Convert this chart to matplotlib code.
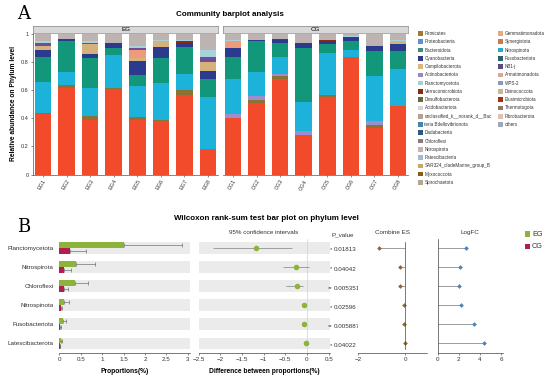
import numpy as np
import matplotlib
matplotlib.use("Agg")
import matplotlib.pyplot as plt
from matplotlib.patches import Rectangle

plt.rcParams['font.family'] = ['Liberation Sans', 'DejaVu Sans']

W, H = 550, 375

# ---------------- panel A data ----------------
eg_samples = ["EG1", "EG2", "EG3", "EG4", "EG5", "EG6", "EG7", "EG8"]
cg_samples = ["CG1", "CG2", "CG3", "CG4", "CG5", "CG6", "CG7", "CG8"]

# stacked layers, bottom -> top, values EG1..EG8 then CG1..CG8
layer_names = ["Proteobacteria", "Firmicutes", "Actinobacteriota", "Nitrospinota",
               "Bacteroidota", "Cyanobacteria", "Campilobacterota", "Gemmatimonadota",
               "NB1-j", "Verrucomicrobiota", "Planctomycetota", "others"]
layer_colors = ["#F24B2C", "#8C7234", "#9C8FCF", "#1DB2D9",
                "#12977A", "#2B3A8C", "#D5B27C", "#F09A7B",
                "#6D4E9A", "#8E2B12", "#A9D3DB", "#BDB3B0"]
proteobacteria = [0.43, 0.62, 0.39, 0.61, 0.39, 0.38, 0.57, 0.18,
                  0.40, 0.51, 0.68, 0.28, 0.55, 0.84, 0.33, 0.49]
firmicutes = [0.01, 0.02, 0.03, 0.01, 0.02, 0.01, 0.03, 0.00,
              0.00, 0.02, 0.02, 0.00, 0.02, 0.00, 0.02, 0.00]
actinobacteriota = [0.00, 0.00, 0.00, 0.00, 0.00, 0.00, 0.00, 0.00,
                    0.03, 0.03, 0.02, 0.03, 0.00, 0.00, 0.03, 0.00]
nitrospinota = [0.22, 0.09, 0.20, 0.23, 0.22, 0.26, 0.12, 0.37,
                0.25, 0.17, 0.12, 0.21, 0.30, 0.05, 0.32, 0.26]
bacteroidota = [0.18, 0.22, 0.21, 0.05, 0.08, 0.18, 0.19, 0.13,
                0.16, 0.22, 0.10, 0.38, 0.06, 0.06, 0.18, 0.13]
cyanobacteria = [0.05, 0.02, 0.03, 0.04, 0.10, 0.08, 0.03, 0.06,
                 0.06, 0.01, 0.02, 0.04, 0.02, 0.03, 0.04, 0.05]
campilobacterota = [0.03, 0.00, 0.07, 0.00, 0.02, 0.04, 0.00, 0.06,
                    0.00, 0.00, 0.00, 0.00, 0.00, 0.00, 0.00, 0.02]
gemmatimonadota = [0.00, 0.00, 0.00, 0.00, 0.06, 0.00, 0.00, 0.00,
                   0.05, 0.00, 0.00, 0.00, 0.00, 0.00, 0.00, 0.00]
nb1j = [0.02, 0.00, 0.01, 0.00, 0.01, 0.00, 0.00, 0.04,
        0.00, 0.00, 0.00, 0.00, 0.00, 0.00, 0.00, 0.00]
verrucomicrobiota = [0.00, 0.00, 0.00, 0.00, 0.00, 0.00, 0.01, 0.00,
                     0.00, 0.00, 0.01, 0.00, 0.01, 0.00, 0.00, 0.00]
planctomycetota = [0.01, 0.00, 0.01, 0.00, 0.02, 0.01, 0.01, 0.05,
                   0.01, 0.00, 0.00, 0.00, 0.00, 0.01, 0.00, 0.01]
others = [0.05, 0.03, 0.05, 0.06, 0.08, 0.04, 0.04, 0.11,
          0.04, 0.04, 0.03, 0.06, 0.04, 0.01, 0.08, 0.04]
layers = [proteobacteria, firmicutes, actinobacteriota, nitrospinota, bacteroidota,
          cyanobacteria, campilobacterota, gemmatimonadota, nb1j, verrucomicrobiota,
          planctomycetota, others]

legend_col1 = ["Firmicutes", "Proteobacteria", "Bacteroidota", "Cyanobacteria",
               "Campilobacterota", "Actinobacteriota", "Planctomycetota",
               "Verrucomicrobiota", "Desulfobacterota", "Acidobacteriota",
               "unclassified_k__norank_d__Bac", "teria Bdellovibrionota", "Dadabacteria",
               "Chloroflexi", "Nitrospirota", "Patescibacteria",
               "SAR324_cladeMarine_group_B", "Myxococcota", "Spirochaetota"]
legend_col1_colors = ["#A07A34", "#5E92D8", "#3F8C7C", "#2E3A87", "#D9B77A",
                      "#8E8CC8", "#A8CFD4", "#8B2A0E", "#6B6440", "#D6D6D6",
                      "#B8A090", "#4A82AA", "#2C5A80", "#8C7A80", "#C9B0B8",
                      "#A8B8D0", "#C9A860", "#8B5A14", "#B0A890"]
legend_col2 = ["Gemmatimonadota", "Synergistota", "Nitrospinota", "Fusobacteriota",
               "NB1-j", "Armatimonadota", "WPS-2", "Deinococcota", "Elusimicrobiota",
               "Thermotogota", "Fibrobacterota", "others"]
legend_col2_colors = ["#E8A880", "#C97850", "#2AA8D0", "#2A6070", "#5A4A80",
                      "#D8A890", "#8898B8", "#C8B890", "#A83010", "#8A7A60",
                      "#E0C0B0", "#A0A8B8"]

# ---------------- panel B data ----------------
phyla = ["Planctomycetota", "Nitrospirota", "Chloroflexi", "Nitrospinota",
         "Fusobacteriota", "Latescibacterota"]
eg_mean = [1.50, 0.39, 0.37, 0.10, 0.08, 0.03]
eg_upper = [2.87, 0.83, 0.67, 0.22, 0.15, 0.07]
cg_mean = [0.26, 0.10, 0.10, 0.03, 0.02, 0.01]
cg_upper = [0.63, 0.28, 0.20, 0.06, 0.04, 0.02]
diff = [-1.18, -0.25, -0.23, -0.06, -0.06, -0.02]
ci_low = [-2.16, -0.56, -0.48, -0.10, -0.09, -0.05]
ci_high = [-0.35, 0.04, -0.09, -0.02, -0.03, 0.01]
p_values = ["0.01813", "0.04042", "0.005351", "0.02596", "0.005887", "0.04022"]
p_stars = ["*", "*", "**", "*", "**", "*"]
combine_es = [-1.09, -0.21, -0.21, -0.03, -0.03, 0.0]
log_fc = [2.65, 2.1, 2.0, 2.2, 3.4, 4.4]

green = "#8DB33A"
crimson = "#B21E4E"


def px_axes(fig, x0, y0, x1, y1):
    return fig.add_axes([x0 / W, 1 - y1 / H, (x1 - x0) / W, (y1 - y0) / H])


fig = plt.figure(figsize=(W / 100, H / 100), dpi=100)

# ---------------- panel A ----------------
fig.text(24 / W, 1 - 14 / H, "A", family="DejaVu Serif", fontsize=13, ha="center", va="center")
fig.text(230 / W, 1 - 14 / H, "Community barplot analysis", fontsize=5.8,
         fontweight="bold", ha="center", va="center")

data = np.array(layers)
for k, (x0, x1, names, label) in enumerate([(33, 218, eg_samples, "EG"),
                                            (223, 408, cg_samples, "CG")]):
    ax = px_axes(fig, x0, 33, x1, 174.5)
    vals = data[:, k * 8:(k + 1) * 8]
    xs = np.arange(8)
    bottom = np.zeros(8)
    for row, col in zip(vals, layer_colors):
        ax.bar(xs, row, 0.7, bottom=bottom, color=col, linewidth=0)
        bottom += row
    ax.set_xlim(-0.42, 7.42)
    ax.set_ylim(0, 1.01)
    ax.set_xticks(xs)
    ax.set_xticklabels(names, rotation=60, ha="right", rotation_mode="anchor", fontsize=4)
    ax.tick_params(length=1.5, width=0.4, pad=1.5, colors="#333333")
    for s in ["top", "right"]:
        ax.spines[s].set_visible(False)
    for s in ["left", "bottom"]:
        ax.spines[s].set_linewidth(0.5)
        ax.spines[s].set_color("#555555")
    if k == 0:
        ax.set_yticks([0, 0.2, 0.4, 0.6, 0.8, 1.0])
        ax.set_yticklabels(["0", "0.2", "0.4", "0.6", "0.8", "1"], fontsize=4)
        ax.set_ylabel("Relative abundance on Phylum level", fontsize=4.8,
                      fontweight="bold", labelpad=3)
    else:
        ax.set_yticks([])
        ax.spines["left"].set_visible(False)
    strip = px_axes(fig, x0, 26, x1, 32.5)
    strip.set_facecolor("#D9D9D9")
    strip.set_xticks([])
    strip.set_yticks([])
    for s in strip.spines.values():
        s.set_linewidth(0.5)
        s.set_color("#888888")
    strip.text(0.5, 0.45, label, fontsize=4.5, ha="center", va="center",
               transform=strip.transAxes)

# legend of panel A
for col_x, names, cols in [(418, legend_col1, legend_col1_colors),
                           (498, legend_col2, legend_col2_colors)]:
    for i, (name, c) in enumerate(zip(names, cols)):
        y = 33.5 + i * 8.27
        fig.patches.append(Rectangle(((col_x) / W, 1 - (y + 2.3) / H), 4.6 / W, 4.6 / H,
                                     transform=fig.transFigure, color=c, linewidth=0))
        fig.text((col_x + 6.5) / W, 1 - y / H, name, fontsize=3.3, ha="left",
                 va="center", color="#333333")

# ---------------- panel B ----------------
fig.text(23.5 / W, 1 - 227.5 / H, "B", family="DejaVu Serif", fontsize=13,
         ha="center", va="center")
fig.text(266.5 / W, 1 - 219 / H, "Wilcoxon rank-sum test bar plot on phylum level",
         fontsize=5.8, fontweight="bold", ha="center", va="center")

rows = np.arange(len(phyla))[::-1]


def style_axis(ax):
    for s in ["top", "right", "left"]:
        ax.spines[s].set_visible(False)
    ax.spines["bottom"].set_linewidth(0.5)
    ax.spines["bottom"].set_color("#444444")
    ax.tick_params(axis="x", length=1.5, width=0.4, pad=1.5, labelsize=4.5,
                   colors="#333333")
    ax.set_ylim(-0.5, 5.5)


# proportions bar panel
axb = px_axes(fig, 59.3, 238.5, 190, 353)
for r in rows:
    axb.axhspan(r - 0.31, r + 0.31, color="#EBEBEB", linewidth=0)
axb.barh(rows + 0.155, eg_mean, 0.31, color=green, linewidth=0)
axb.barh(rows - 0.155, cg_mean, 0.31, color=crimson, linewidth=0)
axb.errorbar(eg_mean, rows + 0.155,
             xerr=[np.zeros(6), np.array(eg_upper) - np.array(eg_mean)],
             fmt="none", ecolor="#555555", elinewidth=0.4, capsize=1.2, capthick=0.4)
axb.errorbar(cg_mean, rows - 0.155,
             xerr=[np.zeros(6), np.array(cg_upper) - np.array(cg_mean)],
             fmt="none", ecolor="#555555", elinewidth=0.4, capsize=1.2, capthick=0.4)
axb.set_xlim(0, 3.05)
axb.set_xticks([0, 0.5, 1, 1.5, 2, 2.5, 3])
axb.set_xticklabels(["0", "0.5", "1", "1.5", "2", "2.5", "3"])
axb.set_yticks(rows)
axb.set_yticklabels(phyla)
style_axis(axb)
axb.tick_params(axis="y", length=0, pad=4, labelsize=4.5, colors="#333333")
axb.set_xlabel("Proportions(%)", fontsize=4.8, fontweight="bold", labelpad=4)

# confidence interval panel
axc = px_axes(fig, 198.7, 238.5, 329.5, 353)
for r in rows:
    axc.axhspan(r - 0.31, r + 0.31, color="#EBEBEB", linewidth=0)
axc.axvline(0, color="#D0D0D0", linewidth=0.5)
axc.errorbar(diff, rows,
             xerr=[np.array(diff) - np.array(ci_low), np.array(ci_high) - np.array(diff)],
             fmt="o", color=green, ms=4, ecolor="#666666", elinewidth=0.4,
             capsize=1.2, capthick=0.4, markeredgewidth=0)
axc.set_xlim(-2.5, 0.52)
axc.set_xticks([-2.5, -2, -1.5, -1, -0.5, 0, 0.5])
axc.set_xticklabels(["\u22122.5", "\u22122", "\u22121.5", "\u22121", "\u22120.5", "0", "0.5"])
axc.set_yticks([])
style_axis(axc)
axc.set_xlabel("Difference between proportions(%)", fontsize=4.8, fontweight="bold",
               labelpad=4)
axc.set_title("95% confidence intervals", fontsize=4.5, pad=3, color="#333333")
tr = axc.get_yaxis_transform()
for r, star, p in zip(rows, p_stars, p_values):
    axc.text(1.023, r - 0.1, star, fontsize=4.3, ha="right", va="center",
             transform=tr, color="#444444")
    axc.text(1.035, r - 0.1, p, fontsize=4.5, ha="left", va="center",
             transform=tr, color="#333333")
axc.text(1.1, 5.55, "P_value", fontsize=4.5, ha="center", va="bottom",
         transform=tr, color="#333333")

# combine ES panel
axe = px_axes(fig, 358, 238.5, 427, 353)
axe.hlines(rows, 0, combine_es, color="#777777", linewidth=0.5)
axe.plot(combine_es, rows, "D", color="#8B6A3A", ms=2.4, markeredgewidth=0)
axe.set_xlim(-2, 0.93)
axe.set_xticks([-2, 0])
axe.set_xticklabels(["\u22122", "0"])
axe.set_yticks([])
style_axis(axe)
axe.spines["left"].set_visible(True)
axe.spines["left"].set_position(("data", 0))
axe.spines["left"].set_linewidth(0.5)
axe.spines["left"].set_color("#444444")
axe.spines["left"].set_bounds(-0.3, 5.3)
axe.set_title("Combine ES", fontsize=4.5, pad=3, color="#333333")

# logFC panel
axl = px_axes(fig, 437.7, 238.5, 503, 353)
axl.hlines(rows, 0, log_fc, color="#777777", linewidth=0.5)
axl.plot(log_fc, rows, "D", color="#4F81BD", ms=2.4, markeredgewidth=0)
axl.set_xlim(0, 6.2)
axl.set_xticks([0, 2, 4, 6])
axl.set_yticks([])
style_axis(axl)
axl.spines["left"].set_visible(True)
axl.spines["left"].set_linewidth(0.5)
axl.spines["left"].set_color("#444444")
axl.set_title("LogFC", fontsize=4.5, pad=3, color="#333333")

# legend of panel B
for i, (lab, c) in enumerate([("EG", green), ("CG", crimson)]):
    y = 234 + i * 12.5
    fig.patches.append(Rectangle((525 / W, 1 - (y + 2.7) / H), 5.4 / W, 5.4 / H,
                                 transform=fig.transFigure, color=c, linewidth=0))
    fig.text(532 / W, 1 - y / H, lab, fontsize=5.2, ha="left", va="center",
             color="#333333")

fig.savefig("out.png", dpi=100)
